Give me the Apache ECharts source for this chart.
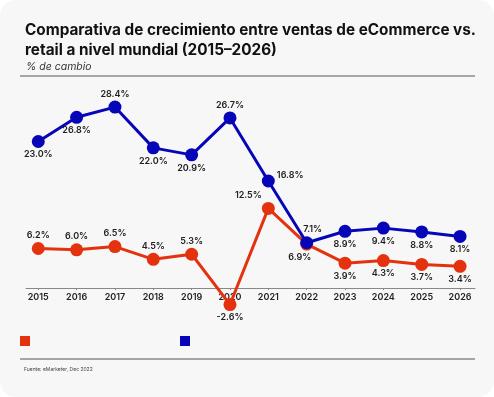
<!DOCTYPE html>
<html>
<head>
<meta charset="utf-8">
<script src="https://cdn.jsdelivr.net/npm/echarts@6/dist/echarts.min.js"></script>
<style>
  html, body { margin: 0; padding: 0; background: #ffffff; }
  #chart { width: 494px; height: 397px; background: #f7f7f7; border-radius: 16px; overflow: hidden; }
</style>
</head>
<body>
<div id="chart"></div>
<script>
// datos (% de cambio anual)
var years = [2015, 2016, 2017, 2018, 2019, 2020, 2021, 2022, 2023, 2024, 2025, 2026];
var ecommerce = [23.0, 26.8, 28.4, 22.0, 20.9, 26.7, 16.8, 7.1, 8.9, 9.4, 8.8, 8.1];
var retail = [6.2, 6.0, 6.5, 4.5, 5.3, -2.6, 12.5, 6.9, 3.9, 4.3, 3.7, 3.4];

var BLUE = '#0606b8';
var RED = '#e4320e';
var FONT = 'Inter, "Noto Sans", sans-serif';

// posicion de cada etiqueta (solo estilo)
var bluePos = ['bottom', 'bottom', 'top', 'bottom', 'bottom', 'top', 'right', 'top', 'bottom', 'bottom', 'bottom', 'bottom'];
var redPos = ['top', 'top', 'top', 'top', 'top', 'bottom', 'top', 'bottom', 'bottom', 'bottom', 'bottom', 'bottom'];
var blueOffset = { 6: [0, -6], 7: [6, 0] };
var redOffset = { 6: [-20, 0], 7: [-7, 0] };

function buildData(vals, pos, offs) {
  return vals.map(function (v, i) {
    var item = { value: [years[i], v], label: { position: pos[i] } };
    if (offs[i]) item.label.offset = offs[i];
    return item;
  });
}

var chart = echarts.init(document.getElementById('chart'));

var labelStyle = {
  show: true,
  distance: 2,
  fontFamily: FONT,
  fontSize: 9,
  fontWeight: 600,
  color: '#222',
  formatter: function (p) { return p.value[1].toFixed(1) + '%'; }
};

var option = {
  backgroundColor: 'transparent',
  animation: false,
  title: [{
    text: 'Comparativa de crecimiento entre ventas de eCommerce vs.\nretail a nivel mundial (2015–2026)',
    left: 20,
    top: 15,
    textStyle: { fontFamily: FONT, fontSize: 15.3, fontWeight: 700, color: '#111', lineHeight: 20 }
  }, {
    text: '% de cambio',
    left: 21,
    top: 56,
    textStyle: { fontFamily: FONT, fontSize: 10.5, fontWeight: 400, fontStyle: 'italic', color: '#333' }
  }, {
    text: 'Fuente: eMarketer, Dec 2022',
    left: 19,
    top: 362,
    textStyle: { fontFamily: FONT, fontSize: 5, fontWeight: 400, color: '#444' }
  }],
  legend: {
    left: 15,
    top: 331,
    itemWidth: 10,
    itemHeight: 10,
    itemGap: 150,
    icon: 'rect',
    formatter: function () { return ''; },
    data: ['Retail', 'eCommerce']
  },
  graphic: [
    { type: 'line', shape: { x1: 20, y1: 76, x2: 475, y2: 76 }, style: { stroke: '#555', lineWidth: 1 } },
    { type: 'line', shape: { x1: 20, y1: 359, x2: 475, y2: 359 }, style: { stroke: '#555', lineWidth: 1 } }
  ],
  grid: { left: 26, right: 19, top: 96.9, bottom: 109 },
  xAxis: {
    type: 'value',
    min: 2014.68,
    max: 2026.39,
    axisLine: { lineStyle: { color: '#888', width: 1 } },
    axisTick: { show: true, length: 2, customValues: years, lineStyle: { color: '#888' } },
    axisLabel: {
      customValues: years,
      margin: 5,
      fontFamily: FONT,
      fontSize: 9,
      fontWeight: 600,
      color: '#222',
      formatter: function (v) { return String(v); }
    },
    splitLine: { show: false }
  },
  yAxis: {
    type: 'value',
    min: 0,
    max: 30,
    show: false
  },
  series: [{
    name: 'eCommerce',
    type: 'line',
    data: buildData(ecommerce, bluePos, blueOffset),
    symbol: 'circle',
    symbolSize: 13,
    clip: false,
    lineStyle: { color: BLUE, width: 3 },
    itemStyle: { color: BLUE },
    label: labelStyle,
    z: 4
  }, {
    name: 'Retail',
    type: 'line',
    data: buildData(retail, redPos, redOffset),
    symbol: 'circle',
    symbolSize: 13,
    clip: false,
    lineStyle: { color: RED, width: 3 },
    itemStyle: { color: RED },
    label: labelStyle,
    z: 3
  }]
};

chart.setOption(option);
</script>
</body>
</html>
